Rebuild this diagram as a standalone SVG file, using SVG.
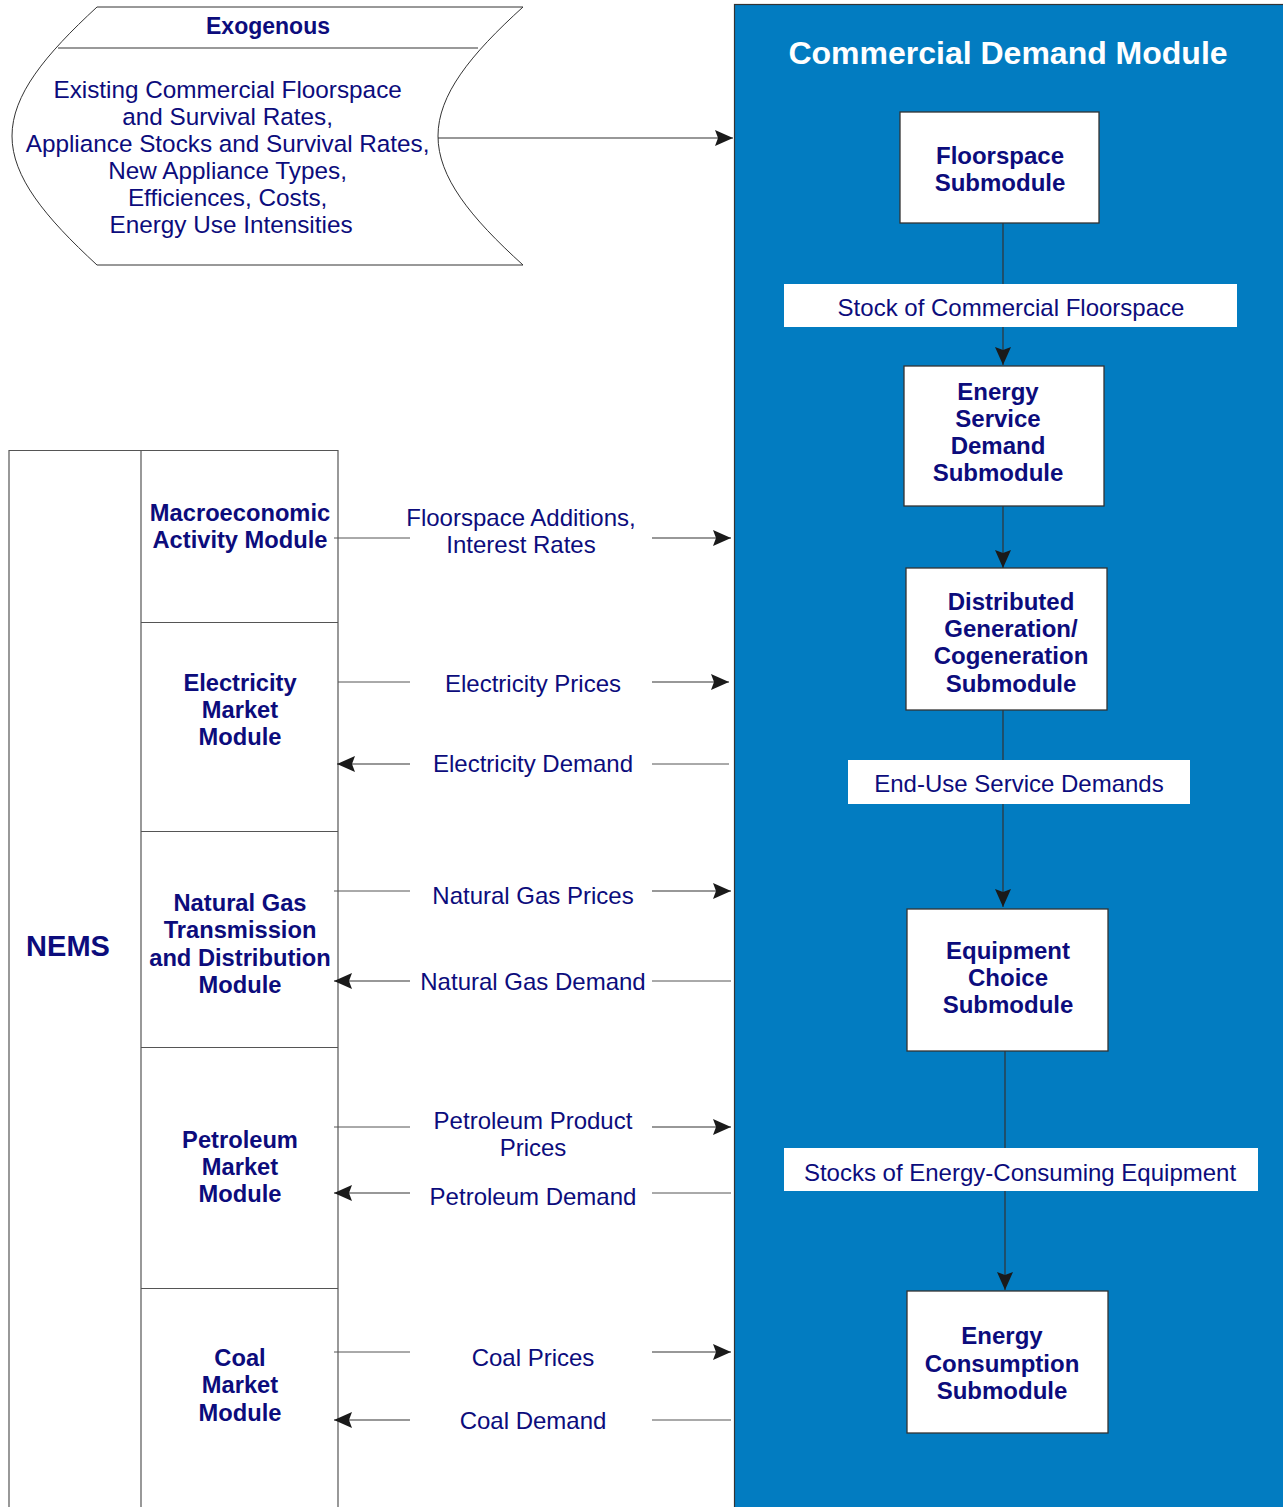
<svg xmlns="http://www.w3.org/2000/svg" width="1283" height="1507" viewBox="0 0 1283 1507">
<style>
.bg{fill:#ffffff}
.panel{fill:#027cc1;stroke:#333;stroke-width:1.2}
.box{fill:#ffffff;stroke:#333;stroke-width:1.3}
.lbl{fill:#ffffff;stroke:none}
.t{font-family:"Liberation Sans",Arial,sans-serif;fill:#0c0c7c;text-anchor:middle}
.r{font-size:24px}
.b{font-size:24px;font-weight:bold}
.bm{font-size:23.7px;font-weight:bold}
.title{font-family:"Liberation Sans",Arial,sans-serif;fill:#ffffff;font-size:32px;font-weight:bold;text-anchor:middle}
.ln{stroke:#333;stroke-width:1.2;fill:none}
.lg{stroke:#555;stroke-width:1;fill:none}
.grid{stroke:#555;stroke-width:1.2;fill:none}
</style>
<defs>
<marker id="ah" markerUnits="userSpaceOnUse" markerWidth="18" markerHeight="16" refX="18" refY="8" orient="auto">
<path d="M0,0 L18,8 L0,16 L3,8 z" fill="#1a1a1a"/>
</marker>
<marker id="ahd" markerUnits="userSpaceOnUse" markerWidth="18" markerHeight="16" refX="18" refY="8" orient="auto">
<path d="M0,0 L18,8 L0,16 L3,8 z" fill="#1a1a1a"/>
</marker>
</defs>
<rect class="bg" x="0" y="0" width="1283" height="1507"/>

<g id="commercial-demand-module">
<rect class="panel" x="734.5" y="4.5" width="560" height="1510"/>
<text class="title" x="1008" y="64">Commercial Demand Module</text>
</g>

<g id="exogenous">
<path d="M97,7 L523,7 C470,55 438,95 438,136 C438,177 470,217 523,265 L97,265 C45,217 12,177 12,136 C12,95 45,55 97,7 Z" fill="#fff" stroke="#333" stroke-width="1"/>
<line x1="58" y1="48" x2="478" y2="48" stroke="#777" stroke-width="1.5"/>
<text class="t b" x="268" y="34" style="font-size:23px">Exogenous</text>
<text class="t r" x="231" style="font-size:24.3px">
<tspan x="231" y="98">Existing Commercial Floorspace</tspan>
<tspan x="231" y="125">and Survival Rates,</tspan>
<tspan x="231" y="152">Appliance Stocks and Survival Rates,</tspan>
<tspan x="231" y="179">New Appliance Types,</tspan>
<tspan x="231" y="206">Efficiences, Costs,</tspan>
<tspan x="231" y="233">Energy Use Intensities</tspan>
</text>
</g>

<g id="nems">
<path class="grid" d="M9,1510 L9,450.5 L338,450.5 L338,1510 M141,450.5 L141,1510 M141,622.5 L338,622.5 M141,831.5 L338,831.5 M141,1047.5 L338,1047.5 M141,1288.5 L338,1288.5"/>
<text class="t" x="68" y="956" style="font-size:29px;font-weight:bold">NEMS</text>
</g>

<g id="macro">
<text class="t bm"><tspan x="240" y="521">Macroeconomic</tspan><tspan x="240" y="548">Activity Module</tspan></text>
</g>
<g id="emm">
<text class="t bm"><tspan x="240" y="691">Electricity</tspan><tspan x="240" y="718">Market</tspan><tspan x="240" y="745">Module</tspan></text>
</g>
<g id="ngtdm">
<text class="t bm"><tspan x="240" y="911">Natural Gas</tspan><tspan x="240" y="938">Transmission</tspan><tspan x="240" y="966">and Distribution</tspan><tspan x="240" y="993">Module</tspan></text>
</g>
<g id="pmm">
<text class="t bm"><tspan x="240" y="1148">Petroleum</tspan><tspan x="240" y="1175">Market</tspan><tspan x="240" y="1202">Module</tspan></text>
</g>
<g id="cmm">
<text class="t bm"><tspan x="240" y="1366">Coal</tspan><tspan x="240" y="1393">Market</tspan><tspan x="240" y="1421">Module</tspan></text>
</g>

<g id="floorspace-submodule">
<rect class="box" x="900" y="112" width="199" height="111"/>
<text class="t b"><tspan x="1000" y="164">Floorspace</tspan><tspan x="1000" y="191">Submodule</tspan></text>
</g>
<g id="esd-submodule">
<rect class="box" x="904" y="366" width="200" height="140"/>
<text class="t b"><tspan x="998" y="400">Energy</tspan><tspan x="998" y="427">Service</tspan><tspan x="998" y="454">Demand</tspan><tspan x="998" y="481">Submodule</tspan></text>
</g>
<g id="dg-submodule">
<rect class="box" x="906" y="568" width="201" height="142"/>
<text class="t b"><tspan x="1011" y="610">Distributed</tspan><tspan x="1011" y="637">Generation/</tspan><tspan x="1011" y="664">Cogeneration</tspan><tspan x="1011" y="692">Submodule</tspan></text>
</g>
<g id="ec-submodule">
<rect class="box" x="907" y="909" width="201" height="142"/>
<text class="t b"><tspan x="1008" y="959">Equipment</tspan><tspan x="1008" y="986">Choice</tspan><tspan x="1008" y="1013">Submodule</tspan></text>
</g>
<g id="cons-submodule">
<rect class="box" x="907" y="1291" width="201" height="142"/>
<text class="t b"><tspan x="1002" y="1344">Energy</tspan><tspan x="1002" y="1372">Consumption</tspan><tspan x="1002" y="1399">Submodule</tspan></text>
</g>

<g id="connectors">
<line class="ln" x1="438" y1="138" x2="733" y2="138" marker-end="url(#ah)"/>
<line class="ln" x1="1003" y1="223" x2="1003" y2="365" marker-end="url(#ahd)"/>
<line class="ln" x1="1003" y1="506" x2="1003" y2="568" marker-end="url(#ahd)"/>
<line class="ln" x1="1003" y1="710" x2="1003" y2="907" marker-end="url(#ahd)"/>
<line class="ln" x1="1005" y1="1051" x2="1005" y2="1290" marker-end="url(#ahd)"/>

<line class="lg" x1="334" y1="538" x2="410" y2="538"/>
<line class="ln" x1="652" y1="538" x2="731" y2="538" marker-end="url(#ah)"/>
<line class="lg" x1="338" y1="682" x2="410" y2="682"/>
<line class="ln" x1="652" y1="682" x2="729" y2="682" marker-end="url(#ah)"/>
<line class="ln" x1="410" y1="764" x2="337" y2="764" marker-end="url(#ah)"/>
<line class="lg" x1="652" y1="764" x2="729" y2="764"/>
<line class="lg" x1="334" y1="891" x2="410" y2="891"/>
<line class="ln" x1="652" y1="891" x2="731" y2="891" marker-end="url(#ah)"/>
<line class="ln" x1="410" y1="981" x2="334" y2="981" marker-end="url(#ah)"/>
<line class="lg" x1="652" y1="981" x2="731" y2="981"/>
<line class="lg" x1="334" y1="1127" x2="410" y2="1127"/>
<line class="ln" x1="652" y1="1127" x2="731" y2="1127" marker-end="url(#ah)"/>
<line class="ln" x1="410" y1="1193" x2="334" y2="1193" marker-end="url(#ah)"/>
<line class="lg" x1="652" y1="1193" x2="731" y2="1193"/>
<line class="lg" x1="334" y1="1352" x2="410" y2="1352"/>
<line class="ln" x1="652" y1="1352" x2="731" y2="1352" marker-end="url(#ah)"/>
<line class="ln" x1="410" y1="1420" x2="334" y2="1420" marker-end="url(#ah)"/>
<line class="lg" x1="652" y1="1420" x2="731" y2="1420"/>

<text class="t r"><tspan x="521" y="526">Floorspace Additions,</tspan><tspan x="521" y="553">Interest Rates</tspan></text>
<text class="t r" x="533" y="692">Electricity Prices</text>
<text class="t r" x="533" y="772">Electricity Demand</text>
<text class="t r" x="533" y="904">Natural Gas Prices</text>
<text class="t r" x="533" y="990">Natural Gas Demand</text>
<text class="t r"><tspan x="533" y="1129">Petroleum Product</tspan><tspan x="533" y="1156">Prices</tspan></text>
<text class="t r" x="533" y="1205">Petroleum Demand</text>
<text class="t r" x="533" y="1366">Coal Prices</text>
<text class="t r" x="533" y="1429">Coal Demand</text>

<g id="label-stock-floorspace">
<rect class="lbl" x="784" y="284" width="453" height="43"/>
<text class="t r" x="1011" y="316">Stock of Commercial Floorspace</text>
</g>
<g id="label-end-use">
<rect class="lbl" x="848" y="760" width="342" height="44"/>
<text class="t r" x="1019" y="792">End-Use Service Demands</text>
</g>
<g id="label-stocks-equipment">
<rect class="lbl" x="784" y="1148" width="474" height="43"/>
<text class="t r" x="1020" y="1181">Stocks of Energy-Consuming Equipment</text>
</g>
</g>
</svg>
